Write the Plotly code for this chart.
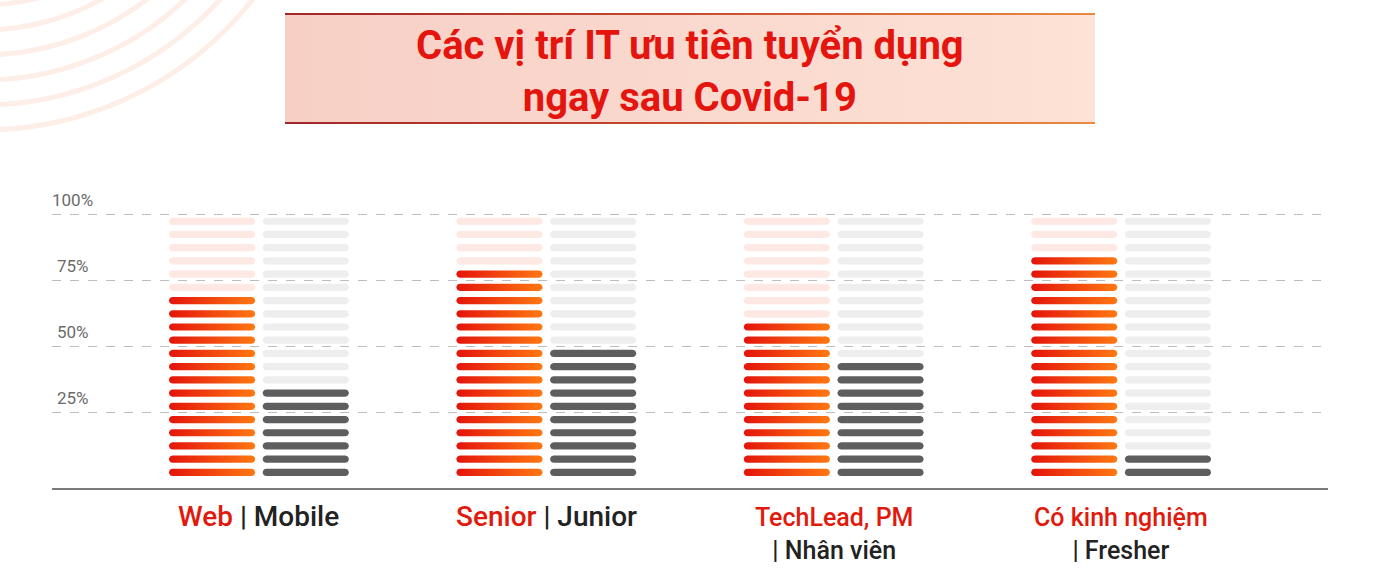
import base64
import numpy as np
import plotly.graph_objects as go

# ---------------- data ----------------
primary_labels = ["Web", "Senior", "TechLead, PM", "Có kinh nghiệm"]
secondary_labels = ["Mobile", "Junior", "Nhân viên", "Fresher"]
primary_values = [70, 80, 60, 85]      # % (red bars)
secondary_values = [35, 50, 45, 10]    # % (gray bars)
label_two_lines = [False, False, True, True]
y_tick_values = [25, 50, 75, 100]
y_tick_labels = ["25%", "50%", "75%", "100%"]
title_lines = ["Các vị trí IT ưu tiên tuyển dụng", "ngay sau Covid-19"]
SEGMENT_STEP = 5  # each stripe represents 5 %

# ---------------- layout geometry ----------------
W, H = 1379, 575
ML, MR, MT, MB = 52, 51, 212, 87
X_RANGE = [-0.72, 3.72]
Y_RANGE = [-3.4, 101]
PW, PH = W - ML - MR, H - MT - MB
PX_X = PW / (X_RANGE[1] - X_RANGE[0])
PX_Y = PH / (Y_RANGE[1] - Y_RANGE[0])

BAR_W = 0.30
BAR_OFFSET = 0.163
SEG_HALF_PX = 3.6

RED_SCALE = [[0, "#e4140b"], [1, "#ff7812"]]
RED_FAINT = "#fde8e3"
GRAY = "#5e5e5e"
GRAY_FAINT = "#eeeeee"


def px2paper_x(px):
    return (px - ML) / PW


def px2paper_y(py):
    return (H - MB - py) / PH


def pill_path(xc, yc, n=12):
    half_w_px = BAR_W / 2 * PX_X
    r = SEG_HALF_PX
    cx_r = xc + (half_w_px - r) / PX_X
    cx_l = xc - (half_w_px - r) / PX_X
    xs, ys = [], []
    for a in np.linspace(-np.pi / 2, np.pi / 2, n):
        xs.append(cx_r + r * np.cos(a) / PX_X)
        ys.append(yc + r * np.sin(a) / PX_Y)
    for a in np.linspace(np.pi / 2, 3 * np.pi / 2, n):
        xs.append(cx_l + r * np.cos(a) / PX_X)
        ys.append(yc + r * np.sin(a) / PX_Y)
    xs.append(xs[0])
    ys.append(ys[0])
    return xs, ys


def column_paths(xc, levels):
    X, Y = [], []
    for lv in levels:
        xs, ys = pill_path(xc, lv)
        X += xs + [None]
        Y += ys + [None]
    return X, Y


fig = go.Figure()
levels_all = np.arange(SEGMENT_STEP / 2, 100, SEGMENT_STEP)
positions = list(range(len(primary_labels)))

for gi, pos in enumerate(positions):
    for val, off, is_red in ((primary_values[gi], -BAR_OFFSET, True),
                             (secondary_values[gi], BAR_OFFSET, False)):
        xc = pos + off
        active = levels_all[levels_all < val]
        inactive = levels_all[levels_all > val]
        fx, fy = column_paths(xc, inactive)
        fig.add_trace(go.Scatter(x=fx, y=fy, mode="lines", fill="toself",
                                 fillcolor=RED_FAINT if is_red else GRAY_FAINT,
                                 line=dict(width=0), hoverinfo="skip",
                                 showlegend=False))
        ax, ay = column_paths(xc, active)
        if is_red:
            fig.add_trace(go.Scatter(x=ax, y=ay, mode="lines", fill="toself",
                                     fillgradient=dict(type="horizontal",
                                                       colorscale=RED_SCALE),
                                     line=dict(width=0), hoverinfo="skip",
                                     showlegend=False))
        else:
            fig.add_trace(go.Scatter(x=ax, y=ay, mode="lines", fill="toself",
                                     fillcolor=GRAY, line=dict(width=0),
                                     hoverinfo="skip", showlegend=False))

RED_TXT = "#e11a0d"
DARK_TXT = "#222222"
annotations = []

# category labels under the axis (two-coloured)
for pos, p, s, two in zip(positions, primary_labels, secondary_labels,
                          label_two_lines):
    if two:
        text = (f"<span style='color:{RED_TXT}'>{p}</span><br>"
                f"<span style='color:{DARK_TXT}'>| {s}</span>")
        size, shift = 25, -13
    else:
        text = (f"<span style='color:{RED_TXT}'>{p}</span>"
                f"<span style='color:{DARK_TXT}'> | {s}</span>")
        size, shift = 28, -10
    annotations.append(dict(x=pos, xref="x", y=0, yref="paper", yshift=shift,
                            text=text, showarrow=False, xanchor="center",
                            yanchor="top", align="center",
                            font=dict(family="Roboto", size=size, weight=500)))

# y labels (above gridlines)
for v, t in zip(y_tick_values, y_tick_labels):
    annotations.append(dict(x=px2paper_x(72.5), xref="paper", y=v, yref="y",
                            yshift=15, text=t, showarrow=False,
                            xanchor="center", yanchor="middle",
                            font=dict(family="Roboto", size=17, color="#6b6b6b")))

# title
annotations.append(dict(x=px2paper_x(689.5), xref="paper", y=px2paper_y(71),
                        yref="paper", text="<br>".join(title_lines),
                        showarrow=False, xanchor="center", yanchor="middle",
                        align="center",
                        font=dict(family="Roboto", size=40, color="#e3150e",
                                  weight=700)))

# title box as svg gradient image
bx0, bx1, by0, by1 = 285, 1095, 13, 124
bw, bh = bx1 - bx0, by1 - by0
svg = (f'<svg xmlns="http://www.w3.org/2000/svg" width="{bw}" height="{bh}" '
       f'viewBox="0 0 {bw} {bh}" preserveAspectRatio="none"><defs>'
       '<linearGradient id="f" x1="0" x2="1" y1="0" y2="0">'
       '<stop offset="0" stop-color="#f7cfc5"/><stop offset="1" stop-color="#fde2d6"/>'
       '</linearGradient><linearGradient id="b" x1="0" x2="1" y1="0" y2="0">'
       '<stop offset="0" stop-color="#a0262a"/><stop offset="0.5" stop-color="#c94a2e"/>'
       '<stop offset="1" stop-color="#e98a44"/></linearGradient></defs>'
       f'<rect x="0" y="0" width="{bw}" height="{bh}" fill="url(#f)"/>'
       f'<rect x="0" y="0" width="{bw}" height="2" fill="url(#b)"/>'
       f'<rect x="0" y="{bh - 2}" width="{bw}" height="2" fill="url(#b)"/></svg>')
src = "data:image/svg+xml;base64," + base64.b64encode(svg.encode()).decode()
images = [dict(source=src, xref="paper", yref="paper",
               x=px2paper_x(bx0), y=px2paper_y(by0),
               sizex=bw / PW, sizey=bh / PH, xanchor="left", yanchor="top",
               sizing="stretch", layer="below")]

# decorative arcs at top-left
shapes = []
cx, cy = -17, -214
for R in [219, 244, 269, 294, 319, 344]:
    shapes.append(dict(type="circle", xref="paper", yref="paper",
                       x0=px2paper_x(cx - R), x1=px2paper_x(cx + R),
                       y0=px2paper_y(cy + R), y1=px2paper_y(cy - R),
                       line=dict(color="#fdeee7", width=5), layer="below"))

fig.update_layout(
    width=W, height=H,
    margin=dict(l=ML, r=MR, t=MT, b=MB),
    paper_bgcolor="white", plot_bgcolor="rgba(0,0,0,0)",
    showlegend=False,
    annotations=annotations, images=images, shapes=shapes,
    xaxis=dict(range=X_RANGE, tickvals=positions, showticklabels=False,
               showgrid=False, zeroline=False, showline=True,
               linecolor="#7a7a7a", linewidth=2, ticks="", fixedrange=True),
    yaxis=dict(range=Y_RANGE, tickvals=y_tick_values, showticklabels=False,
               showgrid=True, gridcolor="#bdbdbd", griddash="dash",
               gridwidth=1.3, zeroline=False, fixedrange=True),
)

fig.write_html("out.html",
               config={"displayModeBar": False},
               post_script="document.body.style.margin='0';")
